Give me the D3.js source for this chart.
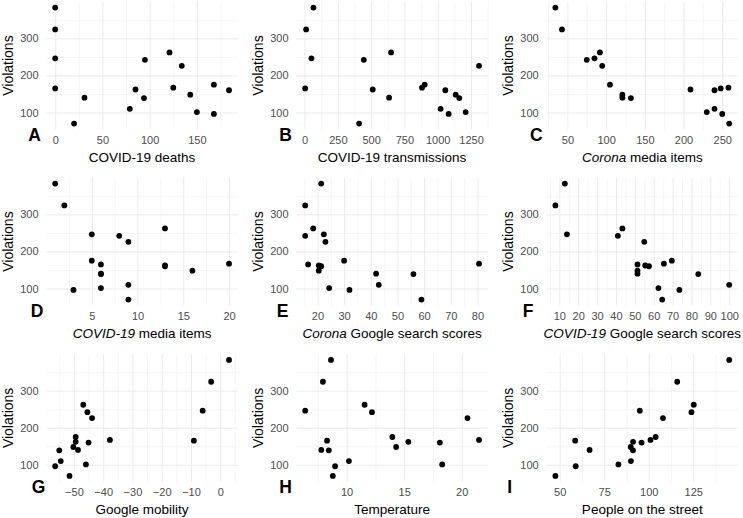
<!DOCTYPE html>
<html>
<head>
<meta charset="utf-8">
<script src="https://cdn.jsdelivr.net/npm/d3@7"></script>
<style>
  body { margin: 0; background: #fff; }
  svg { display: block; font-family: "Liberation Sans", Arial, sans-serif; }
  .grid line { stroke: #ebebeb; }
  .grid path { display: none; }
  .tick-lab path { display: none; }
  .tick-lab text { fill: #4d4d4d; font-size: 11px; }
</style>
</head>
<body>
<div id="chart"></div>
<script>
const w = 743;
const h = 518;

// one row per day, same order in every array
const violations = [383, 324, 246, 165, 140, 70, 110, 162, 139, 242, 262, 167, 226, 148, 101, 175, 96, 160];
const deaths = [0, 0, 0, 0, 31, 20, 79, 85, 94, 95, 121, 125, 134, 143, 150, 168, 168, 184];
const transmissions = [67, 12, 52, 5, 635, 410, 1022, 512, 1162, 445, 650, 882, 1310, 1135, 1210, 902, 1082, 1057];
const coronaMedia = [34.5, 43, 85, 248, 121, 259, 240, 209, 132, 75, 92, 258, 95, 121, 230, 105, 250, 240];
const covidMedia = [1, 2, 5, 6, 6, 9, 9, 13, 6, 8, 13, 20, 9, 16, 6, 5, 3, 13];
const coronaGoogle = [21.4, 15.4, 22.4, 16.5, 42, 59, 43, 20.5, 56, 15.4, 18.4, 80.6, 23, 20.5, 24.4, 30, 32, 21.4];
const covidGoogle = [12.9, 7.9, 14, 51.4, 51.4, 64.5, 100, 55.5, 83.6, 41, 43.4, 65.4, 55, 51.4, 62.5, 69.6, 73.6, 57.5];
const mobility = [3, -3.1, -6, -9, -48.6, -51.5, -54.5, -49.4, -55, -45.4, -46.8, -37.7, -43.8, -50.2, -45.9, -49.4, -56.4, -45];
const temperature = [8.64, 7.94, 6.4, 8.3, 7.8, 8.8, 10.2, 15.36, 8.45, 12.2, 11.56, 21.5, 20.5, 14.3, 18.3, 13.97, 9, 18.1];
const people = [145.2, 116, 95, 58.7, 66.8, 47.6, 90, 91.2, 91.2, 124, 125.3, 101, 108, 89.9, 83, 103.9, 59, 96];

const yTicks = [100, 200, 300];
const xTicks = [
  [0, 50, 100, 150],
  [0, 250, 500, 750, 1000, 1250],
  [50, 100, 150, 200, 250],
  [5, 10, 15, 20],
  [20, 30, 40, 50, 60, 70, 80],
  [10, 20, 30, 40, 50, 60, 70, 80, 90, 100],
  [-50, -40, -30, -20, -10, 0],
  [10, 15, 20],
  [50, 75, 100, 125]
];
const letters = ["A", "B", "C", "D", "E", "F", "G", "H", "I"];
// [italic part, plain part]
const titles = [
  ["", "COVID-19 deaths"],
  ["", "COVID-19 transmissions"],
  ["Corona", " media items"],
  ["COVID-19", " media items"],
  ["Corona", " Google search scores"],
  ["COVID-19", " Google search scores"],
  ["", "Google mobility"],
  ["", "Temperature"],
  ["", "People on the street"]
];
const xSeries = [deaths, transmissions, coronaMedia, covidMedia, coronaGoogle, covidGoogle, mobility, temperature, people];

// layout
const colLeft = [46.5, 296.5, 546.7];
const rowTop = [1.8, 177.8, 354.1];
const pw = 191.2;
const ph = 127.6;
const letterX = [28.3, 279.3, 530, 30.7, 276.7, 522.7, 31.7, 279.3, 507.3];

const svg = d3.select('#chart').append('svg')
  .attr('width', w)
  .attr('height', h);

svg.append('rect').attr('width', w).attr('height', h).attr('fill', '#fff');

function expand(ext) {
  const pad = (ext[1] - ext[0]) * 0.05;
  return [ext[0] - pad, ext[1] + pad];
}

function minors(ticks, domain) {
  const step = ticks[1] - ticks[0];
  const out = [];
  for (let v = ticks[0] - step / 2; v <= domain[1]; v += step) {
    if (v >= domain[0]) out.push(v);
  }
  return out;
}

const yScale = d3.scaleLinear()
  .domain(expand(d3.extent(violations)))
  .range([ph, 0]);

xSeries.forEach((xs, i) => {
  const col = i % 3;
  const row = Math.floor(i / 3);
  const g = svg.append('g')
    .attr('transform', `translate(${colLeft[col]}, ${rowTop[row]})`);

  const x = d3.scaleLinear()
    .domain(expand(d3.extent(xs)))
    .range([0, pw]);

  // minor grid
  g.append('g').attr('class', 'grid')
    .attr('transform', `translate(0, ${ph})`)
    .call(d3.axisBottom(x).tickValues(minors(xTicks[i], x.domain())).tickSize(-ph).tickFormat(''))
    .selectAll('line').attr('stroke-width', 0.5);
  g.append('g').attr('class', 'grid')
    .call(d3.axisLeft(yScale).tickValues(minors(yTicks, yScale.domain())).tickSize(-pw).tickFormat(''))
    .selectAll('line').attr('stroke-width', 0.5);

  // major grid
  g.append('g').attr('class', 'grid')
    .attr('transform', `translate(0, ${ph})`)
    .call(d3.axisBottom(x).tickValues(xTicks[i]).tickSize(-ph).tickFormat(''))
    .selectAll('line').attr('stroke-width', 1);
  g.append('g').attr('class', 'grid')
    .call(d3.axisLeft(yScale).tickValues(yTicks).tickSize(-pw).tickFormat(''))
    .selectAll('line').attr('stroke-width', 1);

  // tick labels
  g.append('g').attr('class', 'tick-lab')
    .attr('transform', `translate(0, ${ph})`)
    .call(d3.axisBottom(x).tickValues(xTicks[i]).tickSize(0).tickPadding(6.5).tickFormat(d3.format('d')))
    .selectAll('text').attr('font-family', null).attr('font-size', null);
  g.append('g').attr('class', 'tick-lab')
    .call(d3.axisLeft(yScale).tickValues(yTicks).tickSize(0).tickPadding(8))
    .selectAll('text').attr('font-family', null).attr('font-size', null);

  g.selectAll('circle')
    .data(xs.map((v, k) => [v, violations[k]]))
    .enter().append('circle')
    .attr('cx', d => x(d[0]))
    .attr('cy', d => yScale(d[1]))
    .attr('r', 2.9)
    .attr('fill', '#000');

  // axis titles
  const t = g.append('text')
    .attr('x', pw / 2)
    .attr('y', ph + 32.3)
    .attr('text-anchor', 'middle')
    .attr('font-size', 13.5)
    .attr('fill', '#000');
  if (titles[i][0]) t.append('tspan').attr('font-style', 'italic').text(titles[i][0]);
  t.append('tspan').text(titles[i][1]);

  g.append('text')
    .attr('transform', `translate(-33.3, ${ph / 2}) rotate(-90)`)
    .attr('text-anchor', 'middle')
    .attr('font-size', 14)
    .attr('fill', '#000')
    .text('Violations');

  svg.append('text')
    .attr('x', letterX[i])
    .attr('y', rowTop[row] + ph + 11.3)
    .attr('font-size', 17.5)
    .attr('font-weight', 'bold')
    .attr('fill', '#000')
    .text(letters[i]);
});
</script>
</body>
</html>
